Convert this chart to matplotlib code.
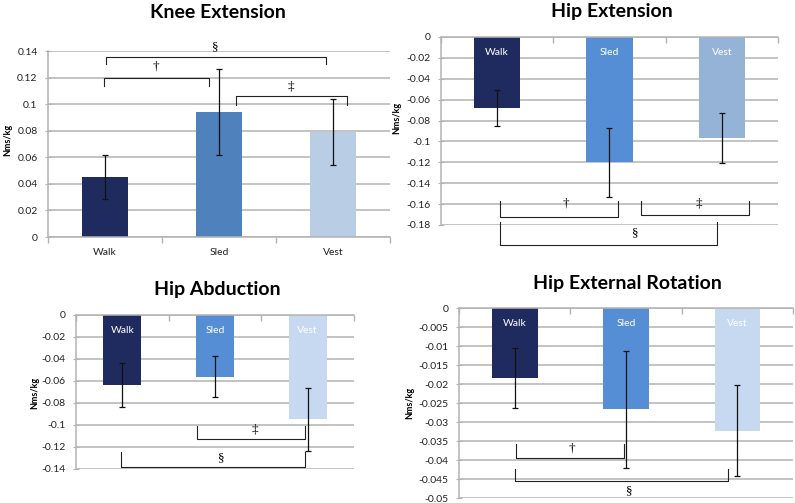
import matplotlib.pyplot as plt

plt.rcParams['font.family'] = ['Lato', 'DejaVu Sans']

cats = ['Walk', 'Sled', 'Vest']

# values (Nms/kg)
knee_ext = [0.045, 0.094, 0.079]
knee_err = [0.0165, 0.0325, 0.025]
hip_ext = [-0.068, -0.120, -0.097]
hip_ext_err = [0.017, 0.033, 0.024]
hip_abd = [-0.064, -0.056, -0.095]
hip_abd_err = [0.020, 0.019, 0.029]
hip_er = [-0.0184, -0.0266, -0.0323]
hip_er_err = [0.0079, 0.0154, 0.012]

knee_ticks = [0, 0.02, 0.04, 0.06, 0.08, 0.1, 0.12, 0.14]
ext_ticks = [0, -0.02, -0.04, -0.06, -0.08, -0.1, -0.12, -0.14, -0.16, -0.18]
abd_ticks = [0, -0.02, -0.04, -0.06, -0.08, -0.1, -0.12, -0.14]
er_ticks = [0, -0.005, -0.01, -0.015, -0.02, -0.025, -0.03, -0.035, -0.04, -0.045, -0.05]

# brackets: (x0, x1, y_end, y_line, symbol, text_x, text_y)
knee_br = [(0.01, 1.94, 0.130, 0.1357, '§', 0.97, 0.1425),
           (-0.01, 0.91, 0.114, 0.120, '†', 0.45, 0.1285),
           (1.15, 2.12, 0.099, 0.1065, '‡', 1.63, 0.1135)]
ext_br = [(0.025, 1.08, -0.157, -0.172, '†', 0.61, -0.1595),
          (1.28, 2.24, -0.157, -0.170, '‡', 1.80, -0.1595),
          (0.025, 1.955, -0.1775, -0.199, '§', 1.23, -0.1875)]
abd_br = [(0.805, 1.97, -0.1006, -0.113, '‡', 1.43, -0.1045),
          (-0.015, 1.97, -0.125, -0.138, '§', 1.07, -0.1305)]
er_br = [(0.014, 0.986, -0.0357, -0.0395, '†', 0.51, -0.0369),
         (0.0, 1.92, -0.0423, -0.0456, '§', 1.03, -0.0482)]

navy = '#1f2b5e'
grid_c = '#b3b3b3'


def panel(ax, vals, errs, colors, ticks, brackets, inner):
    x = range(len(cats))
    ax.bar(x, vals, width=0.41, color=colors, zorder=2)
    ax.errorbar(x, vals, yerr=errs, fmt='none', ecolor='#111111', elinewidth=0.9,
                capsize=2.5, capthick=0.9, zorder=3)
    ax.set_xlim(-0.5, 2.5)
    ax.set_ylim(min(ticks), max(ticks))
    ax.set_yticks(ticks)
    ax.set_yticklabels(['%g' % t for t in ticks], fontsize=7.5, color='#222222')
    ax.yaxis.grid(True, color=grid_c, linewidth=1.1, zorder=0)
    for s in ['top', 'right', 'bottom']:
        ax.spines[s].set_visible(False)
    ax.spines['left'].set_color(grid_c)
    ax.spines['left'].set_linewidth(1.1)
    ax.tick_params(axis='y', direction='inout', length=5, color=grid_c, pad=5)
    # category boundary ticks on the zero line
    ax.set_xticks([-0.5, 0.5, 1.5, 2.5])
    ax.set_xticklabels([])
    ax.tick_params(axis='x', color=grid_c, length=4, width=1)
    if inner:
        ax.xaxis.set_ticks_position('top')
        ax.tick_params(axis='x', direction='in')
        ax.spines['top'].set_visible(True)
        ax.spines['top'].set_color(grid_c)
        ax.spines['top'].set_linewidth(1.1)
        for i, c in enumerate(cats):
            ax.annotate(c, xy=(i, 0), xytext=(0, -11), textcoords='offset points',
                        ha='center', va='center', color='white', fontsize=7.5)
    else:
        ax.spines['bottom'].set_visible(True)
        ax.spines['bottom'].set_color(grid_c)
        ax.spines['bottom'].set_linewidth(1.1)
        for i, c in enumerate(cats):
            ax.text(i, -0.085, c, ha='center', va='center', fontsize=7.5,
                    color='#222222', transform=ax.get_xaxis_transform())
    for x0, x1, ye, yl, sym, tx, ty in brackets:
        ax.plot([x0, x0, x1, x1], [ye, yl, yl, ye], color='#222222', linewidth=0.8,
                clip_on=False, zorder=4)
        ax.text(tx, ty, sym, ha='center', va='center', fontsize=9.5,
                family=['Liberation Serif', 'DejaVu Serif'], color='black', clip_on=False)


fig = plt.figure(figsize=(7.95, 5.03), dpi=100)

ax1 = fig.add_axes([0.0604, 0.5288, 0.4302, 0.3698])
panel(ax1, knee_ext, knee_err, [navy, '#4f81bd', '#b9cde5'], knee_ticks, knee_br, False)

ax2 = fig.add_axes([0.5547, 0.5527, 0.4239, 0.3738])
panel(ax2, hip_ext, hip_ext_err, [navy, '#558ed5', '#95b3d7'], ext_ticks, ext_br, True)

ax3 = fig.add_axes([0.0956, 0.0676, 0.3497, 0.3062])
panel(ax3, hip_abd, hip_abd_err, [navy, '#558ed5', '#c6d9f1'], abd_ticks, abd_br, True)

ax4 = fig.add_axes([0.5774, 0.0099, 0.4201, 0.3777])
panel(ax4, hip_er, hip_er_err, [navy, '#558ed5', '#c6d9f1'], er_ticks, er_br, True)

# titles
for tx, ty, t in [(218, 12, 'Knee Extension'), (612, 11, 'Hip Extension'),
                  (217, 289, 'Hip Abduction'), (627, 283, 'Hip External Rotation')]:
    fig.text(tx / 795, 1 - ty / 503, t, ha='center', va='center',
             fontsize=14, fontweight='bold')

# y labels
for xp, yp in [(8, 140), (397, 118), (35, 393), (410, 403)]:
    fig.text(xp / 795, 1 - yp / 503, 'Nms/kg', rotation=90, ha='center', va='center',
             fontsize=6.5, fontweight='bold')

fig.savefig('out.png', dpi=100, facecolor='white')
